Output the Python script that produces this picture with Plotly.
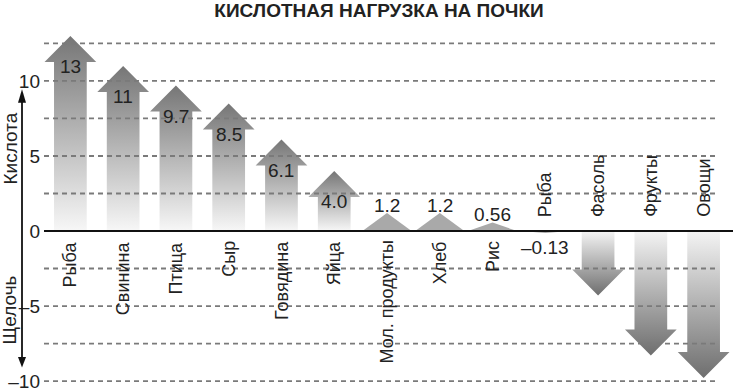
import plotly.graph_objects as go

# ---- data ----
categories = ["Рыба", "Свинина", "Птица", "Сыр", "Говядина", "Яйца",
              "Мол. продукты", "Хлеб", "Рис", "Рыба", "Фасоль", "Фрукты", "Овощи"]
values = [13, 11, 9.7, 8.5, 6.1, 4.0, 1.2, 1.2, 0.56, -0.13, -4.3, -8.3, -9.8]
value_labels = ["13", "11", "9.7", "8.5", "6.1", "4.0", "1.2", "1.2", "0.56", "–0.13", "", "", ""]
tick_vals = [-10, -5, 0, 5, 10]
tick_text = ["–10", "–5", "0", "5", "10"]
grid_vals = [-10, -7.5, -5, -2.5, 2.5, 5, 7.5, 10, 12.5]
title_text = "КИСЛОТНАЯ НАГРУЗКА НА ПОЧКИ"
acid_label = "Кислота"
alkali_label = "Щелочь"

# ---- style ----
FONT = "Arial, Liberation Sans, Helvetica, sans-serif"
TXT = "#222222"
W, H = 733, 388
ML, MR, MT, MB = 44, 3, 34, 2
PLOT_W = W - ML - MR
Y_RANGE = [-10.33, 13.13]
SHAFT = 0.31      # half width of shaft (category units)
HEAD = 0.49       # half width of head
HEAD_H = 1.73     # head height (value units)


def px2paper(px):
    return (px - ML) / PLOT_W


fig = go.Figure()

for i, v in enumerate(values):
    s = 1 if v >= 0 else -1
    if abs(v) > HEAD_H:
        b = v - s * HEAD_H
        xs = [i - SHAFT, i - SHAFT, i - HEAD, i, i + HEAD, i + SHAFT, i + SHAFT, i - SHAFT]
        ys = [0, b, b, v, b, b, 0, 0]
        if s > 0:
            cs = [[0, "#f7f7f7"], [1, "#767676"]]
        else:
            cs = [[0, "#6e6e6e"], [1, "#f4f4f4"]]
        fig.add_trace(go.Scatter(
            x=xs, y=ys, mode="lines", line=dict(width=0), fill="toself",
            fillgradient=dict(type="vertical", colorscale=cs),
            hoverinfo="skip", showlegend=False))
    else:
        xs = [i - HEAD * 0.95, i, i + HEAD * 0.95, i - HEAD * 0.95]
        ys = [0, v, 0, 0]
        fig.add_trace(go.Scatter(
            x=xs, y=ys, mode="lines", line=dict(width=0), fill="toself",
            fillcolor="#a9a9a9", hoverinfo="skip", showlegend=False))

annotations = []
for i, (c, v, lab) in enumerate(zip(categories, values, value_labels)):
    # category label
    if v >= 0:
        annotations.append(dict(x=i, y=0, text=c, textangle=-90, showarrow=False,
                                xanchor="center", yanchor="top", yshift=-8,
                                font=dict(family=FONT, size=18, color=TXT)))
    else:
        annotations.append(dict(x=i, y=0, text=c, textangle=-90, showarrow=False,
                                xanchor="center", yanchor="bottom", yshift=12,
                                font=dict(family=FONT, size=18, color=TXT)))
    # value label
    if lab:
        if abs(v) > HEAD_H:
            ysh = -31
        elif v >= 0:
            ysh = 8
        else:
            ysh = -15
        annotations.append(dict(x=i, y=v, text=lab, showarrow=False,
                                xanchor="center", yanchor="middle", yshift=ysh,
                                font=dict(family=FONT, size=19, color=TXT)))

# side labels
annotations.append(dict(xref="paper", yref="y", x=px2paper(10), y=5.5, text=acid_label,
                        textangle=-90, showarrow=False, xanchor="center", yanchor="middle",
                        font=dict(family=FONT, size=19, color=TXT)))
annotations.append(dict(xref="paper", yref="y", x=px2paper(10), y=-5.3, text=alkali_label,
                        textangle=-90, showarrow=False, xanchor="center", yanchor="middle",
                        font=dict(family=FONT, size=19, color=TXT)))

shapes = []
for g in grid_vals:
    shapes.append(dict(type="line", xref="paper", yref="y", x0=0, x1=px2paper(718),
                       y0=g, y1=g, layer="above",
                       line=dict(color="#7a7a7a", width=1.8, dash="5px,4px")))
# zero line
shapes.append(dict(type="line", xref="paper", yref="y", x0=0, x1=px2paper(733), y0=0, y1=0,
                   layer="above", line=dict(color="#111111", width=2)))
# left acid/alkali axis arrow
ax_x = px2paper(22)
hw = 4 / PLOT_W
shapes.append(dict(type="line", xref="paper", yref="y", x0=ax_x, x1=ax_x, y0=-8.5, y1=8.7,
                   layer="above", line=dict(color="#111111", width=1.8)))
shapes.append(dict(type="path", xref="paper", yref="y",
                   path=f"M {ax_x-hw},8.55 L {ax_x},9.45 L {ax_x+hw},8.55 Z",
                   fillcolor="#111111", line=dict(width=0), layer="above"))
shapes.append(dict(type="path", xref="paper", yref="y",
                   path=f"M {ax_x-hw},-8.4 L {ax_x},-9.1 L {ax_x+hw},-8.4 Z",
                   fillcolor="#111111", line=dict(width=0), layer="above"))

fig.update_layout(
    width=W, height=H,
    margin=dict(l=ML, r=MR, t=MT, b=MB),
    paper_bgcolor="white", plot_bgcolor="white",
    title=dict(text=f"<b>{title_text}</b>", x=379 / W, xanchor="center",
               y=1 - 10 / H, yanchor="middle", yref="container",
               font=dict(family=FONT, size=19, color=TXT)),
    xaxis=dict(range=[-0.5, len(categories) - 0.5], showgrid=False, zeroline=False,
               showticklabels=False, showline=False, ticks="", fixedrange=True,
               automargin=False),
    yaxis=dict(range=Y_RANGE, showgrid=False, zeroline=False, showline=False,
               tickmode="array", tickvals=tick_vals, ticktext=tick_text, ticks="",
               ticklabelstandoff=3, ticklabeloverflow="allow", automargin=False,
               tickfont=dict(family=FONT, size=19, color=TXT), fixedrange=True),
    annotations=annotations,
    shapes=shapes,
    showlegend=False,
)

fig.write_html(
    "out.html", config={"displayModeBar": False},
    post_script=("document.body.style.margin='0';"
                 "document.body.style.overflow='hidden';"
                 "document.documentElement.style.overflow='hidden';"))
